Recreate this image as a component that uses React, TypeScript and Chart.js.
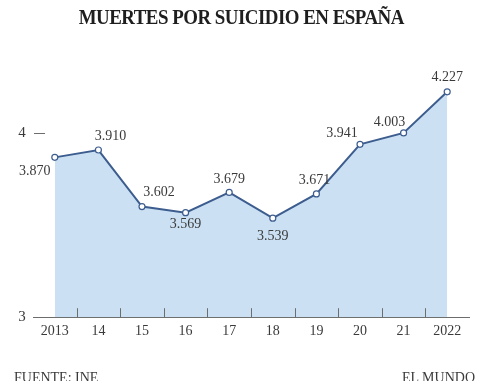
import React, { useEffect, useRef } from "react";
import { Chart, registerables } from "chart.js";

Chart.register(...registerables);

const categories = ["2013", "14", "15", "16", "17", "18", "19", "20", "21", "2022"];
const deaths = [3870, 3910, 3602, 3569, 3679, 3539, 3671, 3941, 4003, 4227];
const valueLabels = ["3.870", "3.910", "3.602", "3.569", "3.679", "3.539", "3.671", "3.941", "4.003", "4.227"];
const yTickValues = [3000, 4000];
const yTickLabels = ["3", "4"];

// label placement relative to each point (dx, dy)
const labelOffsets: [number, number][] = [
  [-20, 14], [12, -14], [17, -14], [0, 12], [0, -13],
  [0, 18], [-2, -14], [-18, -11], [-14, -11], [0, -14],
];

const TEXT = "#3a3a3a";
const LINE = "#3d5d8f";
const FILL = "#cbe1f3";
const FONT = "'Liberation Serif', 'DejaVu Serif', serif";

const overlayPlugin = {
  id: "overlay",
  afterDatasetsDraw(chart: any) {
    const { ctx, chartArea, scales } = chart;
    const x = scales.x;
    const y = scales.y;
    ctx.save();
    ctx.strokeStyle = "#6d6d6d";
    ctx.lineWidth = 1;
    for (let i = 0; i < categories.length - 1; i++) {
      const px = Math.round((x.getPixelForValue(i) + x.getPixelForValue(i + 1)) / 2) + 0.5;
      ctx.beginPath();
      ctx.moveTo(px, chartArea.bottom);
      ctx.lineTo(px, chartArea.bottom - 9);
      ctx.stroke();
    }
    ctx.fillStyle = TEXT;
    ctx.font = `15px ${FONT}`;
    ctx.textAlign = "center";
    ctx.textBaseline = "middle";
    yTickValues.forEach((v, i) => {
      const py = y.getPixelForValue(v);
      ctx.fillText(yTickLabels[i], 22, py);
      if (i > 0) {
        ctx.beginPath();
        ctx.moveTo(34, Math.round(py) + 0.5);
        ctx.lineTo(45, Math.round(py) + 0.5);
        ctx.stroke();
      }
    });
    ctx.font = `14px ${FONT}`;
    const meta = chart.getDatasetMeta(0);
    meta.data.forEach((pt: any, i: number) => {
      const [dx, dy] = labelOffsets[i];
      ctx.fillText(valueLabels[i], pt.x + dx, pt.y + dy);
    });
    ctx.restore();
  },
};

export default function App() {
  const ref = useRef<HTMLCanvasElement>(null);
  useEffect(() => {
    document.body.style.margin = "0";
    const chart = new Chart(ref.current!, {
      type: "line",
      data: {
        labels: categories,
        datasets: [
          {
            data: deaths,
            borderColor: LINE,
            borderWidth: 2,
            backgroundColor: FILL,
            fill: "start",
            tension: 0,
            pointRadius: 3,
            pointBorderWidth: 1.2,
            pointBackgroundColor: "#ffffff",
            pointBorderColor: LINE,
          },
        ],
      },
      options: {
        responsive: false,
        animation: false,
        layout: { padding: { left: 33, right: 13, top: 60, bottom: 35 } },
        plugins: { legend: { display: false }, tooltip: { enabled: false }, title: { display: false } },
        scales: {
          x: {
            offset: true,
            grid: { display: false, drawTicks: false },
            border: { display: true, color: "#6d6d6d", width: 1 },
            ticks: { color: TEXT, font: { family: FONT, size: 14 }, padding: 6, maxRotation: 0, autoSkip: false },
          },
          y: { display: false, min: 3000, max: 4400 },
        },
      },
      plugins: [overlayPlugin],
    });
    return () => chart.destroy();
  }, []);
  return (
    <div style={{ position: "relative", width: 482, height: 381, overflow: "hidden", background: "#fff" }}>
      <canvas ref={ref} width={482} height={381} style={{ position: "absolute", left: 0, top: 0 }} />
      <div
        style={{
          position: "absolute", top: 4, left: 0, width: 482, textAlign: "center",
          fontFamily: FONT, fontWeight: "bold", fontSize: 22, color: "#1e1e1e", letterSpacing: -0.6,
          transform: "scaleX(0.86)", transformOrigin: "243px 0",
        }}
      >
        MUERTES POR SUICIDIO EN ESPAÑA
      </div>
      <div style={{ position: "absolute", top: 370, left: 14, fontFamily: FONT, fontSize: 14, color: TEXT }}>FUENTE: INE</div>
      <div style={{ position: "absolute", top: 370, right: 7, fontFamily: FONT, fontSize: 14, color: TEXT }}>EL MUNDO</div>
    </div>
  );
}
